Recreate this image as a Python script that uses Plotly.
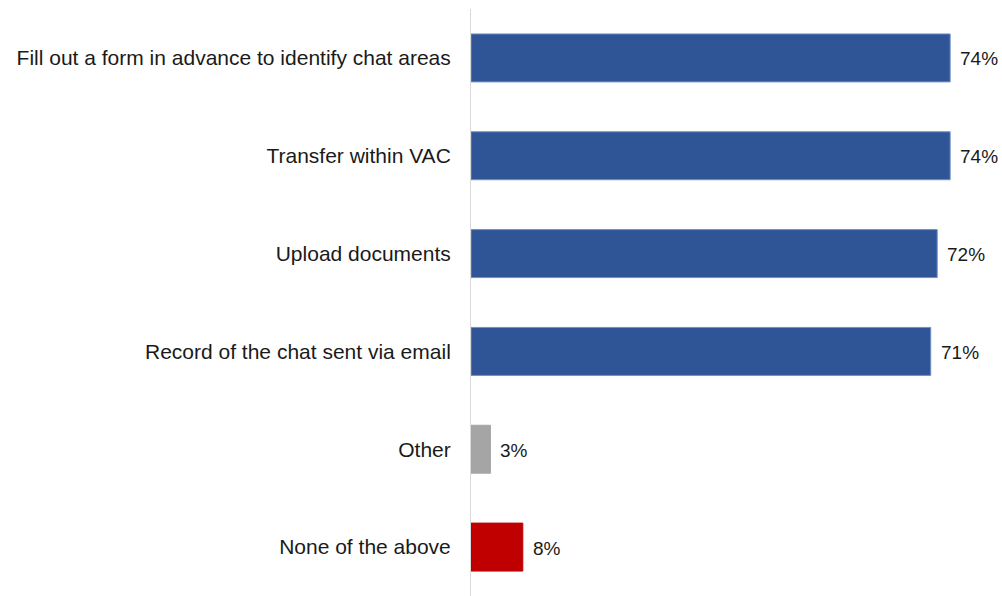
import plotly.graph_objects as go

categories = [
    "Fill out a form in advance to identify chat areas",
    "Transfer within VAC",
    "Upload documents",
    "Record of the chat sent via email",
    "Other",
    "None of the above",
]
values = [74, 74, 72, 71, 3, 8]
bar_colors = ["#2F5597", "#2F5597", "#2F5597", "#2F5597", "#A5A5A5", "#C00000"]
edge_colors = ["#6F8FC7", "#6F8FC7", "#6F8FC7", "#6F8FC7", "#A5A5A5", "#C00000"]

FONT = "Liberation Sans, Arial, sans-serif"

fig = go.Figure(
    go.Bar(
        y=categories,
        x=values,
        orientation="h",
        marker=dict(color=bar_colors, line=dict(color=edge_colors, width=1)),
        hoverinfo="skip",
    )
)

for cat, val in zip(categories, values):
    fig.add_annotation(
        x=val, y=cat, text=f"{val}%", showarrow=False,
        xanchor="left", xshift=8, yshift=-1,
        font=dict(family=FONT, size=19, color="#1a1a1a"),
    )

fig.update_layout(
    width=1002, height=596,
    margin=dict(l=471, r=13, t=9, b=0),
    plot_bgcolor="white", paper_bgcolor="white",
    bargap=0.51,
    showlegend=False,
    font=dict(family=FONT, size=20, color="#1a1a1a"),
)
fig.update_xaxes(range=[0, 80], visible=False, showgrid=False, zeroline=False)
fig.update_yaxes(
    autorange="reversed", showgrid=False, zeroline=False,
    showline=True, linecolor="#D9D9D9", linewidth=1,
    ticks="", ticklabelstandoff=15,
    tickfont=dict(family=FONT, size=21, color="#1a1a1a"),
)

fig.write_html("out.html")
